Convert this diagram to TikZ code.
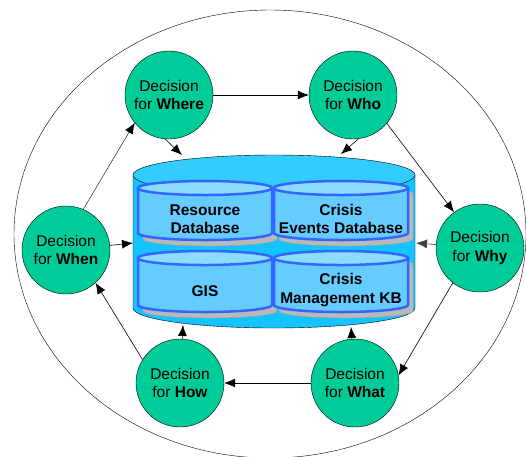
\documentclass[tikz,border=0pt]{standalone}
\usepackage{fontspec}
\setmainfont{Liberation Sans}
\usetikzlibrary{arrows.meta}
\definecolor{decgreen}{RGB}{0,204,153}
\definecolor{kbcyan}{RGB}{20,196,255}
\definecolor{kbtop}{RGB}{51,204,255}
\definecolor{drumfill}{RGB}{102,204,255}
\definecolor{drumtop}{RGB}{140,220,255}
\definecolor{drumline}{RGB}{51,102,255}
\tikzset{
    x=1pt, y=-1pt,
    node distance=184pt,
    decision/.style={
        circle, draw, thin,
        fill=decgreen,
        minimum size=88pt,
        inner sep=0pt,
        align=center,
        font=\fontsize{15.5}{18.5}\selectfont
    },
    kbtext/.style={
        align=center,
        inner sep=0pt,
        font=\fontsize{15.5}{18.5}\selectfont\bfseries
    },
    kb body/.style={fill=kbcyan, draw=black, thin},
    kb top/.style={fill=kbtop, draw=black, thin},
    drum body/.style={fill=drumfill, draw=drumline, line width=2.5pt},
    drum top/.style={fill=drumtop, draw=drumline, line width=2.5pt},
    shadow body/.style={fill=gray!55, draw=gray!75},
    shadow top/.style={fill=gray!55, draw=gray!75},
    every edge/.append style={
        draw,
        ->,>={Latex[length=11pt,width=9pt]},
        semithick
    }
}
\newcommand\drum[6]{%
    \path[#6 body] (#1-#4,#2) -- (#1-#4,#3)
        arc[start angle=180, end angle=360, x radius=#4pt, y radius=#5pt]
        -- (#1+#4,#2) -- cycle;
    \path[#6 top] (#1,#2) ellipse[x radius=#4pt, y radius=#5pt];
}

\begin{document}
\begin{tikzpicture}
            \useasboundingbox (0,0) rectangle (526,456);
            \draw[thin] (270,234) ellipse[x radius=256pt, y radius=224pt];

            \drum{274}{175}{308}{141}{20}{kb}
            \drum{210}{194}{239}{67}{7}{shadow}
            \drum{346}{194}{239}{67}{7}{shadow}
            \drum{210}{264}{311}{67}{7}{shadow}
            \drum{346}{264}{311}{67}{7}{shadow}
            \drum{205}{188}{233}{67}{7}{drum}
            \drum{341}{188}{233}{67}{7}{drum}
            \drum{205}{258}{305}{67}{7}{drum}
            \drum{341}{258}{305}{67}{7}{drum}

            \node[kbtext] (resource) at (205,219) {Resource\\Database};
            \node[kbtext] (events) at (341,219) {Crisis\\Events Database};
            \node[kbtext] (gis) at (205,291) {GIS};
            \node[kbtext] (crisiskb) at (341,290) {Crisis\\Management KB};

            \coordinate (kbwhere) at (182,155);
            \coordinate (kbwho) at (341,154);
            \coordinate (kbwhy) at (416,243);
            \coordinate (kbwhat) at (351,327);
            \coordinate (kbhow) at (183,325);
            \coordinate (kbwhen) at (133,243);

            \node[decision] (where) at (169,95) {Decision\\for \textbf{Where}};
            \node[decision, right of = where] (who) {Decision\\for \textbf{Who}};
            \node[decision, below of = who, xshift=127pt, yshift=31pt] (why) {Decision\\for \textbf{Why}};
            \node[decision, below of = where, xshift=11pt, yshift=-104pt] (how) {Decision\\for \textbf{How}};
            \node[decision, right of = how, xshift=-9pt] (what) {Decision\\for \textbf{What}};
            \node[decision, below of = where, xshift=-103pt, yshift=29pt] (when) {Decision\\for \textbf{When}};

            \draw (where) edge (who)
                (where.-95) edge (kbwhere);
            \draw (who.-40) edge (why.126)
                (who.-83) edge (kbwho);
            \draw (why.-128) edge (what.10)
                (why) edge[darkgray] (kbwhy);
            \draw (what) edge (how)
                (what) edge (kbwhat);
            \draw (how.148) edge (when.-48)
                (how) edge (kbhow);
            \draw (when.67) edge[thin] (where.-141)
                (when) edge (kbwhen);
        \end{tikzpicture}
\end{document}
